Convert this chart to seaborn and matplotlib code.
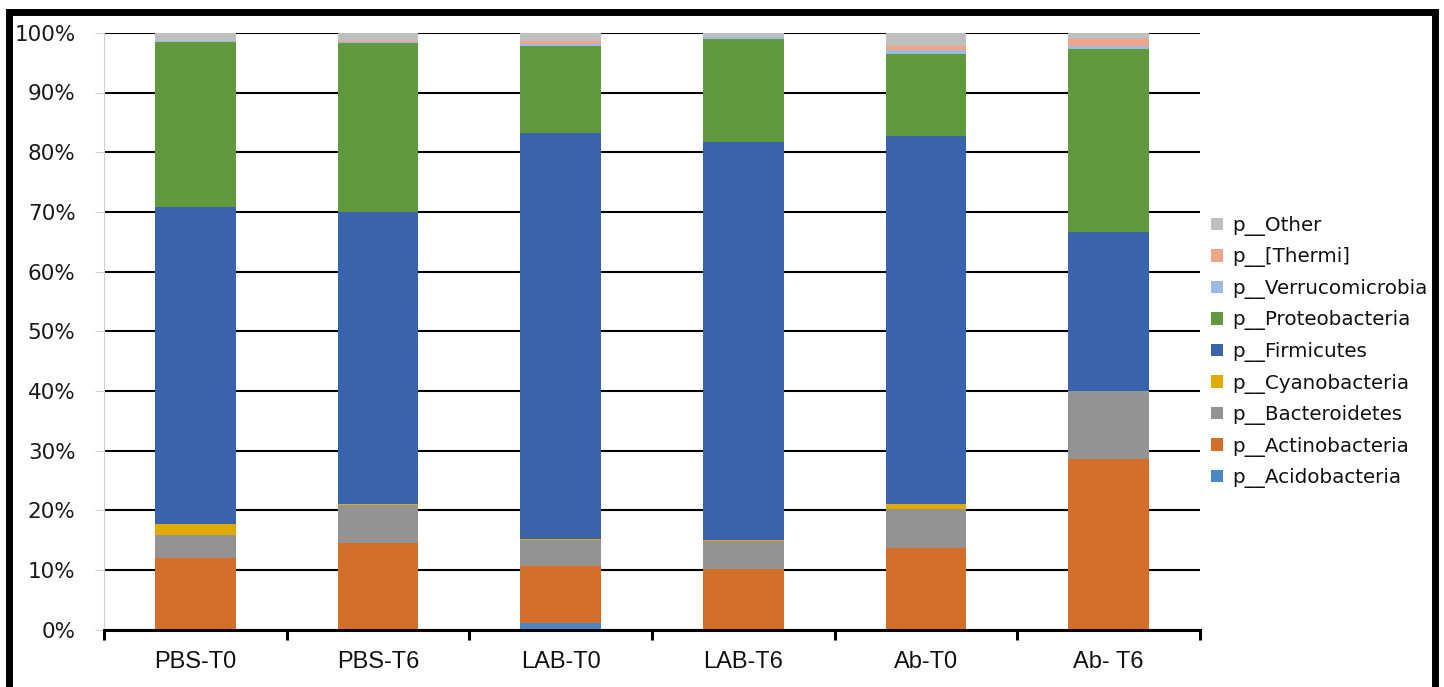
import numpy as np
import pandas as pd
import matplotlib
matplotlib.use("Agg")
import matplotlib.pyplot as plt
from matplotlib.patches import Rectangle
from matplotlib.ticker import FixedLocator
import seaborn as sns

# Relative abundance (%) of bacterial phyla per sample group
samples = ["PBS-T0", "PBS-T6", "LAB-T0", "LAB-T6", "Ab-T0", "Ab- T6"]
phyla = ["p__Acidobacteria", "p__Actinobacteria", "p__Bacteroidetes",
         "p__Cyanobacteria", "p__Firmicutes", "p__Proteobacteria",
         "p__Verrucomicrobia", "p__[Thermi]", "p__Other"]

acidobacteria   = [0.0,   0.0,   1.2,   0.05,  0.0,   0.0]
actinobacteria  = [12.1,  14.5,  9.5,   10.1,  13.75, 28.55]
bacteroidetes   = [3.8,   6.45,  4.4,   4.8,   6.5,   11.45]
cyanobacteria   = [1.85,  0.05,  0.05,  0.1,   0.8,   0.0]
firmicutes      = [53.1,  48.9,  68.0,  66.6,  61.7,  26.6]
proteobacteria  = [27.65, 28.45, 14.6,  17.35, 13.7,  30.7]
verrucomicrobia = [0.1,   0.15,  0.35,  0.3,   0.65,  0.5]
thermi          = [0.05,  0.05,  0.45,  0.05,  0.65,  1.1]
other           = [1.35,  1.45,  1.45,  0.65,  2.25,  1.1]

colors = ["#4A87C5", "#D46F2B", "#939393", "#E0AB00", "#3A63AD",
          "#62993E", "#9BBBE1", "#F0A58A", "#BFBFBF"]

layers = np.array([acidobacteria, actinobacteria, bacteroidetes, cyanobacteria,
                   firmicutes, proteobacteria, verrucomicrobia, thermi, other])
tops = np.cumsum(layers, axis=0)  # upper edge of each stacked segment

rows = []
for i, ph in enumerate(phyla):
    for j, s in enumerate(samples):
        rows.append({"sample": s, "phylum": ph, "top": tops[i, j]})
df = pd.DataFrame(rows)

# draw the tallest cumulative layer first so lower segments sit on top of it
hue_order = phyla[::-1]
palette = dict(zip(phyla, colors))

sns.set_theme(style="white")
plt.rcParams["font.family"] = ["DejaVu Sans"]

fig = plt.figure(figsize=(14.44, 6.87), dpi=100)
ax = fig.add_axes([104 / 1444, 1 - 629.8 / 687, 1096 / 1444, 597 / 687])

sns.barplot(data=df, x="sample", y="top", hue="phylum", order=samples,
            hue_order=hue_order, palette=palette, dodge=False, width=0.44,
            errorbar=None, linewidth=0, saturation=1, ax=ax)

ax.set_xlim(-0.5, len(samples) - 0.5)
ax.set_ylim(0, 100)
ax.set_xlabel("")
ax.set_ylabel("")

# y axis: percent labels and black horizontal gridlines
yt = np.arange(0, 101, 10)
ax.set_yticks(yt)
ax.set_yticklabels([f"{v}%" for v in yt], fontsize=15.5, color="#1a1a1a")
ax.yaxis.grid(True, color="black", linewidth=1.5)
ax.set_axisbelow(True)
ax.tick_params(axis="y", length=6.5, width=0.8, color="#D0D0D0", pad=14, left=True)

# x axis: category labels, boundary tick marks
ax.set_xticks(range(len(samples)))
ax.set_xticklabels(samples, fontsize=17, family="Liberation Sans", color="#111111")
ax.tick_params(axis="x", which="major", length=0, pad=15)
ax.xaxis.set_minor_locator(FixedLocator(np.arange(-0.5, len(samples), 1.0)))
ax.tick_params(axis="x", which="minor", length=7.5, width=2.2, color="black",
               direction="out", bottom=True)

for side in ["top", "right"]:
    ax.spines[side].set_visible(False)
ax.spines["left"].set_color("#D0D0D0")
ax.spines["left"].set_linewidth(0.8)
ax.spines["bottom"].set_color("black")
ax.spines["bottom"].set_linewidth(2.2)

# legend on the right
handles, labels = ax.get_legend_handles_labels()
ax.legend(handles, labels, loc="center left",
          bbox_to_anchor=(1211 / 1444, 1 - 352 / 687), bbox_transform=fig.transFigure,
          frameon=False, fontsize=14.3, handlelength=0.6, handleheight=0.6,
          handletextpad=0.45, labelspacing=0.58, borderpad=0, borderaxespad=0)
for t in ax.get_legend().get_texts():
    t.set_color("#111111")

# thick black frame around the whole figure
fig.patches.append(Rectangle((8.5 / 1444, -0.1), (1435 - 8.5) / 1444, 1.1 - 12 / 687,
                             transform=fig.transFigure, fill=False,
                             edgecolor="black", linewidth=5, zorder=10))

fig.savefig("out.png", dpi=100, facecolor="white")
